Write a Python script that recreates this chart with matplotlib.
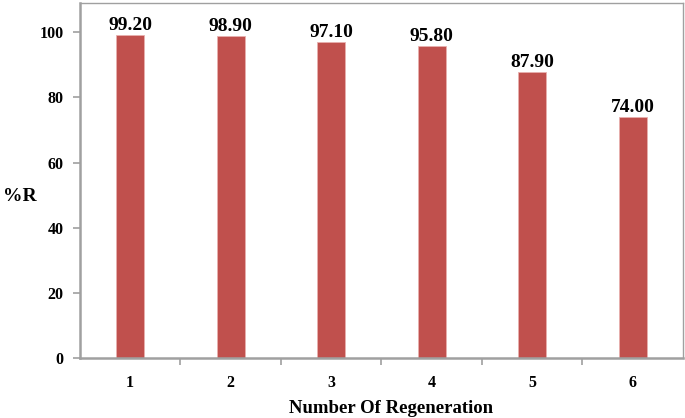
import matplotlib
matplotlib.use("Agg")
import matplotlib.pyplot as plt

categories = ["1", "2", "3", "4", "5", "6"]
values = [99.20, 98.90, 97.10, 95.80, 87.90, 74.00]
yticks = [0, 20, 40, 60, 80, 100]

plt.rcParams['font.family'] = ['Liberation Serif', 'DejaVu Serif']
plt.rcParams['font.weight'] = 'bold'

fig = plt.figure(figsize=(6.85, 4.18), dpi=100)
ax = fig.add_axes([0.1168, 0.1435, 0.880, 0.8493])

x = list(range(len(categories)))
bars = ax.bar(x, values, width=0.28, color='#C0504D', edgecolor='#E8B0AE', linewidth=0.6)
for xi, v in zip(x, values):
    ax.text(xi, v + 0.3, f"{v:.2f}", ha='center', va='bottom', fontsize=14, fontweight='bold')

ax.set_xlim(-0.5, len(categories) - 0.5)
ax.set_ylim(0, 109)
ax.set_yticks(yticks)
ax.set_yticklabels([str(t) for t in yticks], fontsize=11.5, fontweight='bold')
ax.set_xticks(x)
ax.set_xticklabels(categories, fontsize=11.5, fontweight='bold')
ax.tick_params(axis='x', length=0, pad=12)
ax.set_xticks([i + 0.5 for i in range(len(categories) - 1)], minor=True)
ax.tick_params(axis='x', which='minor', length=5, width=1.2, color='#A0A0A0', direction='out')
ax.tick_params(axis='y', length=5, width=1.2, color='#A0A0A0', direction='out', pad=7)

for side in ['left', 'bottom']:
    ax.spines[side].set_color('#A0A0A0')
    ax.spines[side].set_linewidth(1.8)
for side in ['top', 'right']:
    ax.spines[side].set_color('#A0A0A0')
    ax.spines[side].set_linewidth(1.0)

ax.set_xlabel("Number Of Regeneration", fontsize=13.5, fontweight='bold', va='center')
ax.xaxis.set_label_coords(0.516, -0.143)
ax.set_ylabel("%R", fontsize=14, fontweight='bold', rotation=0, va='center')
ax.yaxis.set_label_coords(-0.1, 0.455)

fig.savefig("out.png", dpi=100)
